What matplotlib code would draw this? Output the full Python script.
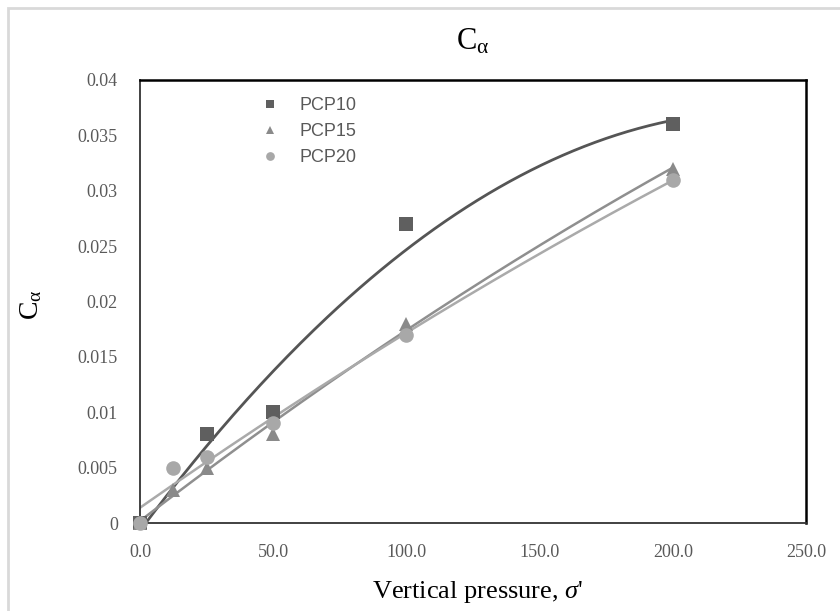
import numpy as np
import matplotlib
matplotlib.use("Agg")
import matplotlib.pyplot as plt
from matplotlib.patches import Rectangle
from matplotlib.lines import Line2D

plt.rcParams['mathtext.fontset'] = 'custom'
plt.rcParams['mathtext.rm'] = 'Liberation Serif'
plt.rcParams['mathtext.it'] = 'Liberation Serif:italic'

# data
series_names = ["PCP10", "PCP15", "PCP20"]
x_pcp10 = [0, 25, 50, 100, 200]
y_pcp10 = [0.0, 0.008, 0.010, 0.027, 0.036]
x_pcp15 = [0, 12.5, 25, 50, 100, 200]
y_pcp15 = [0.0, 0.003, 0.005, 0.008, 0.018, 0.032]
x_pcp20 = [0, 12.5, 25, 50, 100, 200]
y_pcp20 = [0.0, 0.005, 0.006, 0.009, 0.017, 0.031]
x_ticks = [0, 50, 100, 150, 200, 250]
y_ticks = [0, 0.005, 0.01, 0.015, 0.02, 0.025, 0.03, 0.035, 0.04]
y_tick_labels = ["0", "0.005", "0.01", "0.015", "0.02", "0.025", "0.03", "0.035", "0.04"]

marker_colors = ["#5f5f5f", "#8a8a8a", "#a8a8a8"]
line_colors = ["#555555", "#8f8f8f", "#aaaaaa"]
markers = ["s", "^", "o"]
msizes = [9.5, 10, 10.5]

fig = plt.figure(figsize=(8.4, 6.11), dpi=100)
fig.patches.append(Rectangle((8/840, -0.1), 1.2, (611-8)/611 + 0.1, transform=fig.transFigure,
                             fill=False, edgecolor="#d9d9d9", linewidth=2))
ax = fig.add_axes([140/840, (611-523)/611, (806-140)/840, (523-80)/611])

xs = [x_pcp10, x_pcp15, x_pcp20]
ys = [y_pcp10, y_pcp15, y_pcp20]

handles = []
for i in range(3):
    x = np.array(xs[i], float)
    y = np.array(ys[i], float)
    coef = np.polyfit(x, y, 2)
    xf = np.linspace(0, 200, 200)
    ax.plot(xf, np.polyval(coef, xf), color=line_colors[i], lw=2 if i == 0 else 1.8, zorder=2)
for i in range(3):
    ax.plot(xs[i], ys[i], linestyle="none", marker=markers[i], ms=msizes[i],
            color=marker_colors[i], markeredgewidth=0, zorder=3 + i, clip_on=False)
    handles.append(Line2D([], [], linestyle="none", marker=markers[i], ms=msizes[i] * 0.6,
                          color=marker_colors[i], markeredgewidth=0))

ax.set_xlim(0, 250)
ax.set_ylim(0, 0.04)
ax.set_xticks(x_ticks)
ax.set_xticklabels([f"{v:.1f}" for v in x_ticks])
ax.set_yticks(y_ticks)
ax.set_yticklabels(y_tick_labels)
ax.tick_params(length=0, labelsize=13, labelcolor="#595959")
ax.tick_params(axis="x", pad=15)
ax.tick_params(axis="y", pad=16)
for lab in ax.get_xticklabels() + ax.get_yticklabels():
    lab.set_fontfamily("Liberation Serif")

for s in ["top", "right"]:
    ax.spines[s].set_color("black")
    ax.spines[s].set_linewidth(1.8)
for s in ["left", "bottom"]:
    ax.spines[s].set_color("#333333")
    ax.spines[s].set_linewidth(1.3)

fig.text(473/840, 1 - 41/611, r"$\mathrm{C}_{\mathrm{α}}$", ha="center", va="center", fontsize=22)
fig.text(30/840, 1 - 305/611, r"$\mathrm{C}_{\mathrm{α}}$", ha="center", va="center", fontsize=20, rotation=90)
fig.text(478/840, 1 - 592/611, r"Vertical pressure, $σ$'", ha="center", va="center", fontsize=19,
         fontfamily="Liberation Serif")

leg = ax.legend(handles, series_names, loc="upper left", bbox_to_anchor=(247/840, 1 - 88/611),
                bbox_transform=fig.transFigure, frameon=False, prop={"family": "Liberation Sans", "size": 13},
                labelcolor="#595959", handletextpad=0.9, labelspacing=0.5, borderpad=0, handlelength=1.5)

fig.savefig("out.png", dpi=100)
